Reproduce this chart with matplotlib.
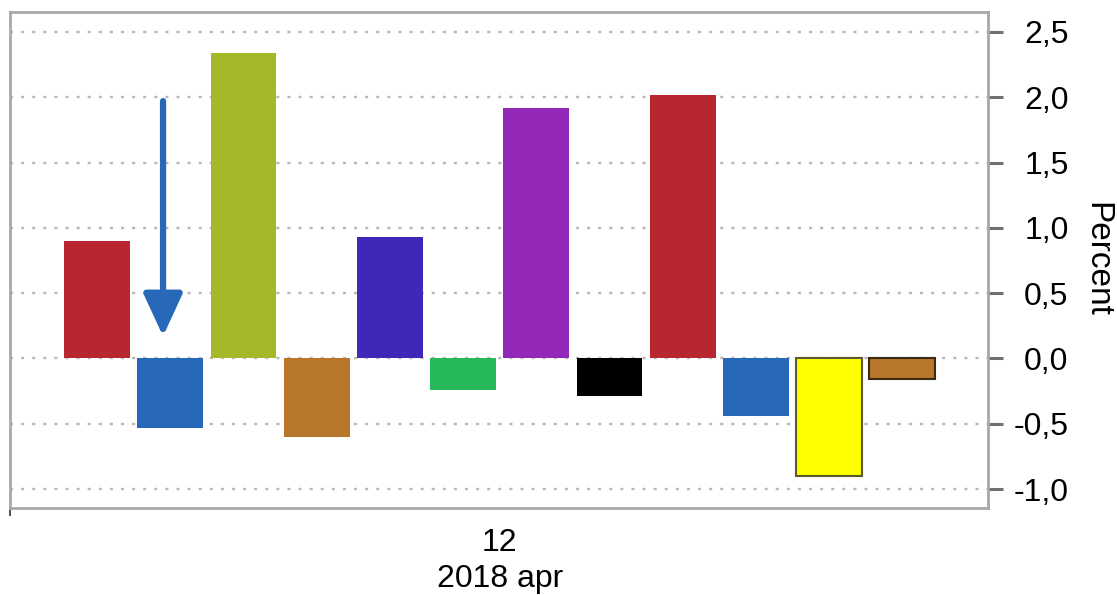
import matplotlib.pyplot as plt
from matplotlib.ticker import FuncFormatter, FixedLocator
import numpy as np

plt.rcParams['font.family'] = ['Liberation Sans', 'DejaVu Sans']

values = [0.90, -0.53, 2.34, -0.60, 0.93, -0.24, 1.92, -0.29, 2.02, -0.44, -0.90, -0.16]
colors = ['#B8262F', '#2769B8', '#A5B828', '#B8762A', '#3F27B8', '#27B859',
          '#9227B8', '#000000', '#B8262F', '#2769B8', '#FFFF00', '#B8762A']
edges = ['none'] * 10 + ['#5a5a2a', '#3a2a10']
yticks = [-1.0, -0.5, 0.0, 0.5, 1.0, 1.5, 2.0, 2.5]
xlabel = '12\n2018 apr'

fig = plt.figure(figsize=(11.17, 5.95), dpi=100)
ax = fig.add_axes([0.009, 0.146, 0.8755, 0.834])

x = np.arange(len(values))
for i in range(len(values)):
    lw = 1.5 if edges[i] != 'none' else 0
    ax.bar(x[i], values[i], width=0.9, color=colors[i], edgecolor=edges[i],
           linewidth=lw, zorder=2)

# arrow pointing at the second bar
ax.annotate('', xy=(0.90, 0.17), xytext=(0.90, 1.97),
            arrowprops=dict(arrowstyle='-|>,head_length=2.6,head_width=1.2',
                            color='#2769B8', lw=4.5, shrinkA=0, shrinkB=0),
            zorder=3)

ax.set_xlim(-1.19, 12.17)
ax.set_ylim(-1.146, 2.653)

ax.yaxis.tick_right()
ax.set_yticks(yticks)
ax.yaxis.set_major_formatter(FuncFormatter(lambda v, p: f'{v:.1f}'.replace('.', ',')))
ax.tick_params(axis='y', length=11, width=2.2, color='#707070', labelsize=23, pad=47)
for lab in ax.get_yticklabels():
    lab.set_horizontalalignment('right')
fig.text(1097 / 1117, 1 - 259 / 595, 'Percent', rotation=270, fontsize=24,
         ha='center', va='center')

ax.set_xticks([5.5])
ax.set_xticklabels([xlabel], fontsize=23, linespacing=1.3)
ax.tick_params(axis='x', length=0, pad=14)
ax.xaxis.set_minor_locator(FixedLocator([-1.19]))
ax.tick_params(axis='x', which='minor', length=6, width=1.2, color='#303030')

ax.grid(axis='y', linestyle=(0, (1.3, 3.4)), color='#b8b8b8', linewidth=1.7, zorder=0)
ax.set_axisbelow(True)

for s in ax.spines.values():
    s.set_color('#a8a8a8')
    s.set_linewidth(2)

plt.savefig('out.png', dpi=100)
